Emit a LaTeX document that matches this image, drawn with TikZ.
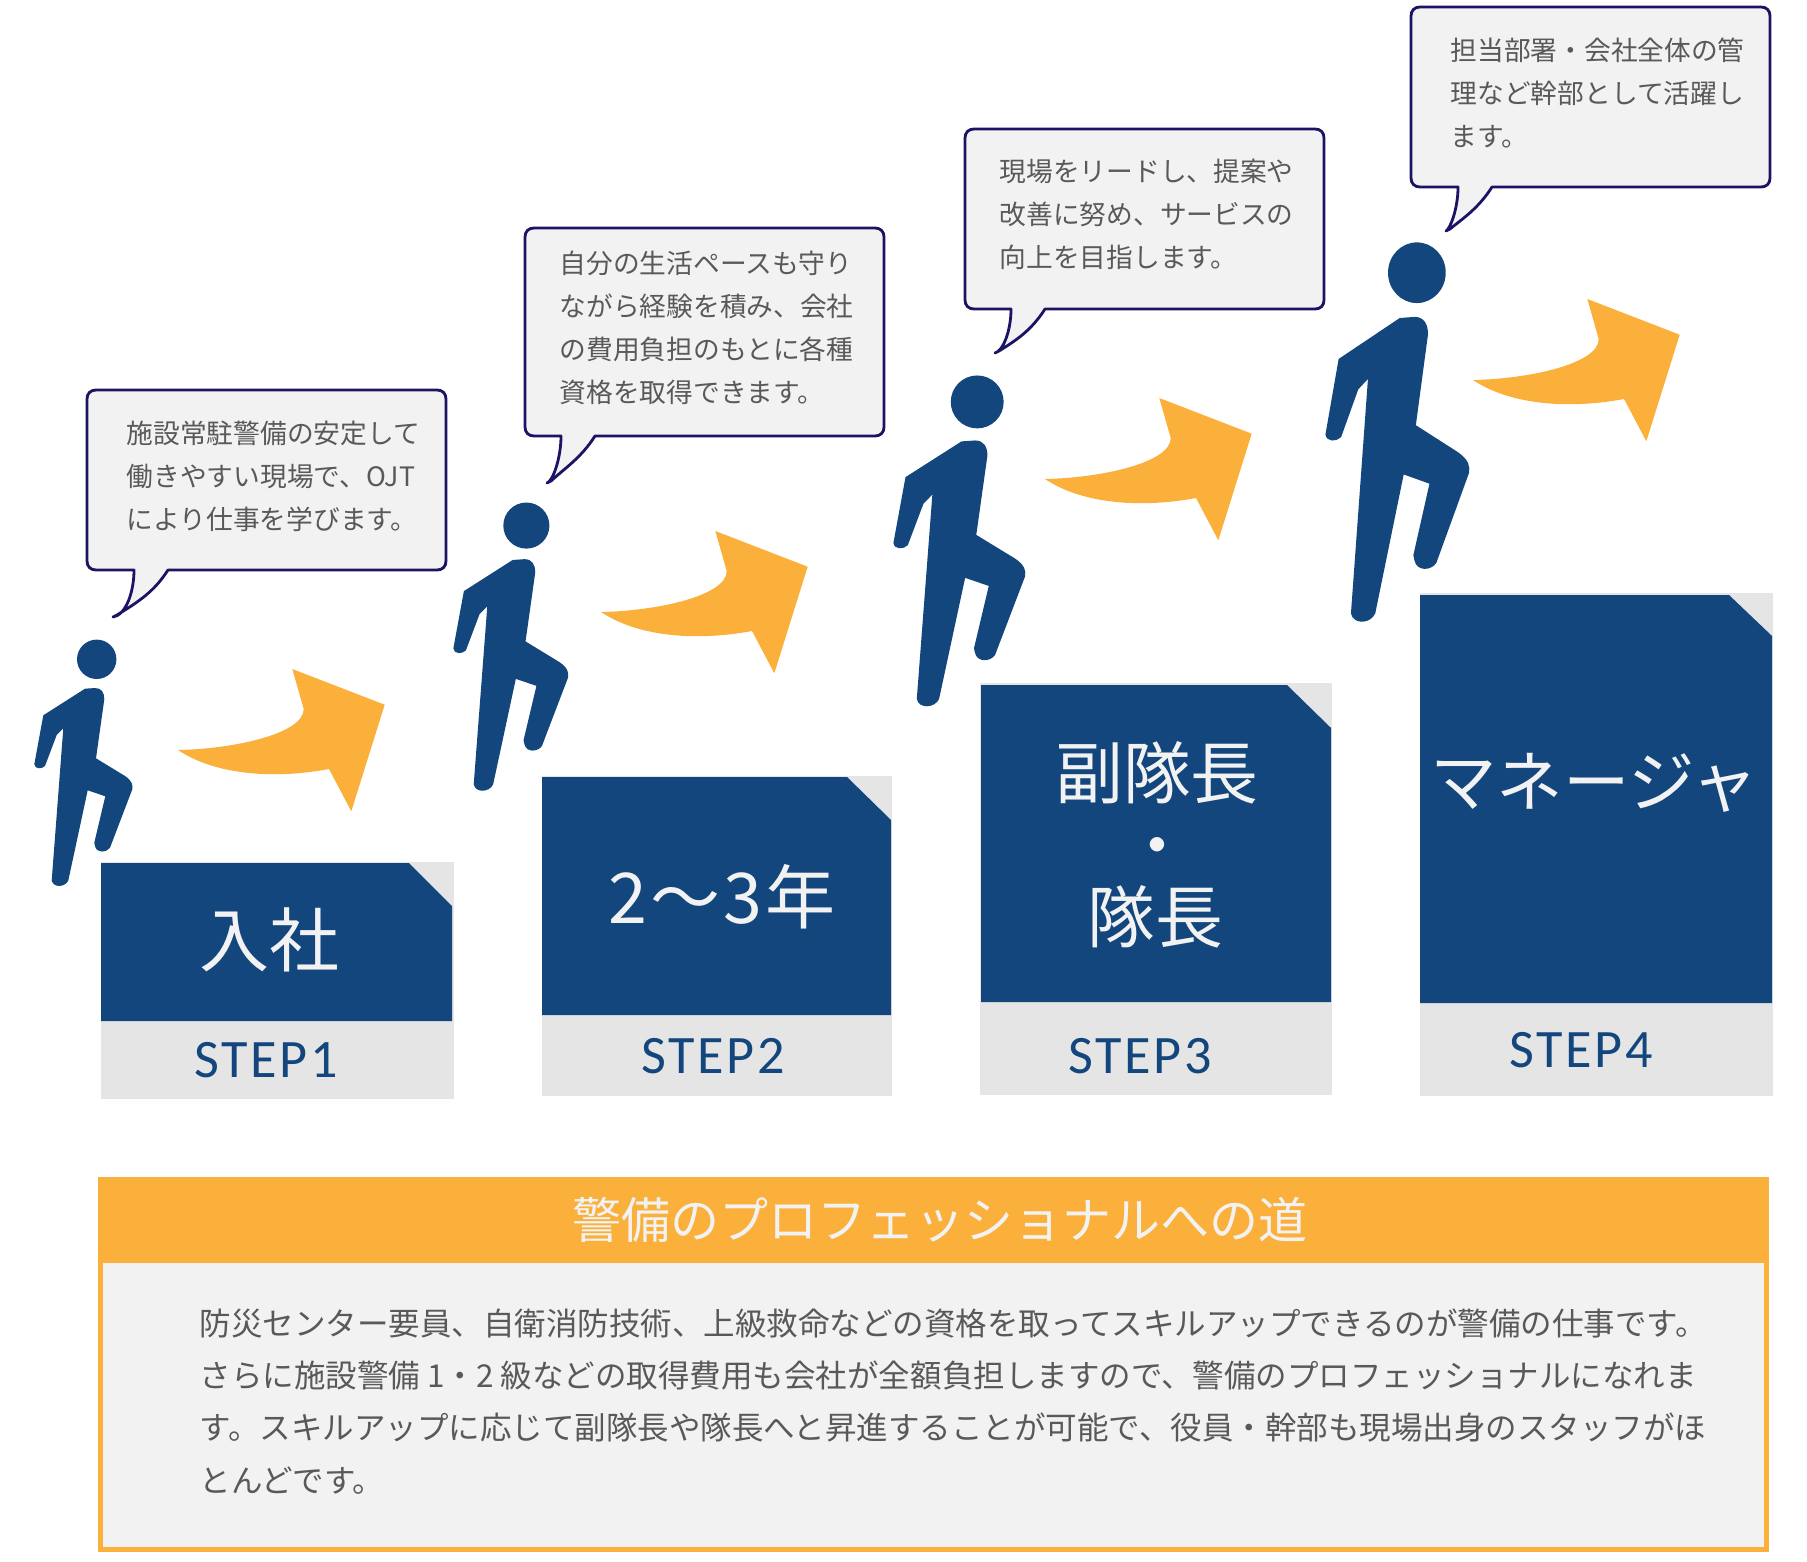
\documentclass[tikz,border=0pt]{standalone}
\usepackage{fontspec}
\usepackage{xcolor}
\setmainfont{Noto Sans CJK JP}
\newfontfamily\stepfont[LetterSpace=5]{Carlito}
\definecolor{navy_blue}{HTML}{12467D}
\definecolor{bubble_line}{HTML}{1B1464}
\definecolor{sun_orange}{HTML}{FBB03B}
\definecolor{pale_gray}{HTML}{E5E5E5}
\definecolor{paper_gray}{HTML}{F2F2F2}
\definecolor{ink_gray}{HTML}{595959}
\tikzset{
    tnode/.style = {align=left, inner sep=0pt, anchor=north west, text=ink_gray},
    bubble_text/.style = {tnode, font=\fontsize{7.6}{12.23}\selectfont},
    body_text/.style = {tnode, font=\fontsize{8.96}{14.8}\selectfont},
    title_text/.style = {inner sep=0pt, text=paper_gray, font=\fontsize{13.94}{16}\selectfont},
    big_text/.style = {inner sep=0pt, align=center, text=paper_gray, font=\fontsize{19.9}{24}\selectfont},
    mid_text/.style = {inner sep=0pt, align=center, text=paper_gray, font=\fontsize{19.3}{22}\selectfont},
    long_text/.style = {inner sep=0pt, align=center, text=paper_gray, font=\fontsize{18.9}{22}\selectfont},
    step_label/.style = {inner sep=0pt, text=navy_blue, font=\stepfont\fontsize{15.4}{18}\selectfont},
    step_back/.style = {fill=pale_gray},
    step_front/.style = {fill=navy_blue},
    pics/walker/.style = {code={
        \fill[navy_blue] (62.7,19.3) circle (19.7);
        \fill[navy_blue] (51,48.7) -- (61,48) .. controls (67.7,48) and (70.3,52.7) .. (70.3,59.3)
            -- (62,118.3) -- (91,136) .. controls (98.3,141) and (99,145) .. (98.3,149.3)
            -- (76,207.7) .. controls (72.7,212.7) and (62.7,213.7) .. (61,206)
            -- (60.3,202.7) -- (71.3,156.3) -- (53.7,150.3) -- (34.3,240.5)
            .. controls (31,247.5) and (19.3,248) .. (17.7,240.5) -- (29.3,88.3) -- (22.7,95) -- (11,126)
            .. controls (7.7,129.3) and (1,129.3) .. (0.3,124.3) -- (9.3,75.3) -- cycle;
    }},
    pics/bend_arrow/.style = {code={
        \fill[sun_orange] (0,0) .. controls (55,-1) and (125.7,-16) .. (125.7,-41)
            -- (114.3,-81) -- (206.7,-45.3) -- (173.3,61.3) -- (151,19)
            .. controls (98.3,29) and (38.3,25.7) .. (0,0) -- cycle;
    }},
    pics/bubble/.style n args = {4}{code={
        \draw[bubble_line, line width=0.8pt, fill=paper_gray, line join=round]
            (#2,#1) -- (9,#1) .. controls (3.5,#1) and (0,#1-3.5) .. (0,#1-9) -- (0,9)
            .. controls (0,3.5) and (3.5,0) .. (9,0) -- (350,0)
            .. controls (355.5,0) and (359,3.5) .. (359,9) -- (359,#1-9)
            .. controls (359,#1-3.5) and (355.5,#1) .. (350,#1) -- (#2+34,#1)
            .. controls (#2+20,#1+22) and (#2+4,#1+32) .. (#3+4,#1+#4-2) -- (#3,#1+#4)
            .. controls (#2-8,#1+#4-2) and (#2,#1+22) .. (#2,#1) -- cycle;
    }}
}
\begin{document}
\begin{tikzpicture}
            [x=0.01cm, y=-0.01cm]

            \useasboundingbox (0,0) rectangle (1807,1561);

            \fill[step_back] (101,862) rectangle (454,1099);
            \fill[step_front] (101,863) -- (409,863) -- (452,906) -- (452,1021) -- (101,1021) -- cycle;
            \fill[step_back] (542,776) rectangle (892,1096);
            \fill[step_front] (542,777) -- (847,777) -- (891,820) -- (891,1015) -- (542,1015) -- cycle;
            \fill[step_back] (980,683) rectangle (1332,1095);
            \fill[step_front] (981,685) -- (1287,685) -- (1331,728) -- (1331,1002) -- (981,1002) -- cycle;
            \fill[step_back] (1420,593) rectangle (1773,1096);
            \fill[step_front] (1420,595) -- (1729,595) -- (1772,636) -- (1772,1003) -- (1420,1003) -- cycle;

            \node [big_text] (enter_label) at (269,940) {入社};
            \node [big_text] (years_label) at (722,897) {\addfontfeature{LetterSpace=4.5}2〜3年};
            \node [mid_text] (deputy_label) at (1157,773) {副隊長};
            \node [mid_text] (dot_label) at (1157,854) {・};
            \node [mid_text] (chief_label) at (1155,917) {隊長};
            \node [long_text] (manager_label) at (1594,783) {マネージャ};

            \node [step_label] (step_one) at (266,1060) {STEP1};
            \node [step_label] (step_two) at (713,1056) {STEP2};
            \node [step_label] (step_three) at (1140,1056) {STEP3};
            \node [step_label] (step_four) at (1581,1050) {STEP4};

            \pic [xscale=1, yscale=1] at (34,640) {walker};
            \pic [xscale=1.17, yscale=1.17] at (453,503) {walker};
            \pic [xscale=1.343, yscale=1.343] at (893,376) {walker};
            \pic [xscale=1.465, yscale=1.54] at (1325,243) {walker};

            \pic at (178,750) {bend_arrow};
            \pic at (601,612) {bend_arrow};
            \pic at (1045,479) {bend_arrow};
            \pic at (1473,380) {bend_arrow};

            \pic at (87,390) {bubble={180}{47}{26}{47}};
            \pic at (525,228) {bubble={208}{36}{22}{47}};
            \pic at (965,129) {bubble={180}{46}{30}{44}};
            \pic at (1411,7) {bubble={180}{47}{35}{44}};

            \node [bubble_text] (say_one) at (126,420) {施設常駐警備の安定して\\働きやすい現場で、OJT\\により仕事を学びます。};
            \node [bubble_text] (say_two) at (559,250.5) {自分の生活ペースも守り\\ながら経験を積み、会社\\の費用負担のもとに各種\\資格を取得できます。};
            \node [bubble_text] (say_three) at (999,158) {現場をリードし、提案や\\改善に努め、サービスの\\向上を目指します。};
            \node [bubble_text] (say_four) at (1450,37) {担当部署・会社全体の管\\理など幹部として活躍し\\ます。};

            \fill[sun_orange] (98,1177) rectangle (1769,1552);
            \fill[paper_gray] (103,1263) rectangle (1764,1547);
            \node [title_text] (road_title) at (940,1220) {警備のプロフェッショナルへの道};
            \node [body_text] (road_body) at (199,1308.5) {防災センター要員、自衛消防技術、上級救命などの資格を取ってスキルアップできるのが警備の仕事です。\\さらに施設警備 1・2 級などの取得費用も会社が全額負担しますので、警備のプロフェッショナルになれま\\す。スキルアップに応じて副隊長や隊長へと昇進することが可能で、役員・幹部も現場出身のスタッフがほ\\とんどです。};
        \end{tikzpicture}
\end{document}
